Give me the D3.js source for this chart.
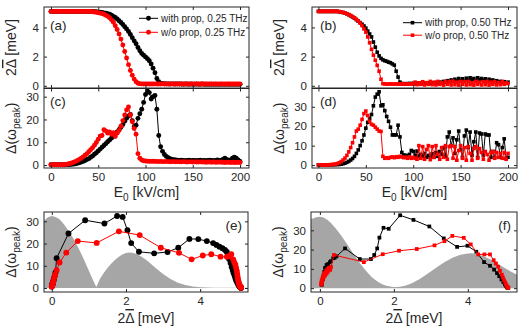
<!DOCTYPE html>
<html>
<head>
<meta charset="utf-8">
<script src="https://cdn.jsdelivr.net/npm/d3@7"></script>
<style>
body { margin:0; background:#fff; }
svg { display:block; font-family:'Liberation Sans', Arial, sans-serif; }
.frame { fill:none; stroke:#262626; stroke-width:1; }
.axis line { stroke:#262626; }
.axis text { fill:#262626; font-size:11.5px; font-family:'Liberation Sans', Arial, sans-serif; }
.ax-title { fill:#262626; font-size:14px; }
.panel-label { fill:#262626; font-size:13.5px; }
.legend-text { fill:#262626; font-size:10px; }
</style>
</head>
<body>
<script>
//----------------
//Data
//----------------
//E0 grid [kV/cm] for panels (a)-(d)
var E0 = d3.range(0, 201, 2)

//(a) 2*gap vs E0, 0.25 THz
var gapA_with = [5.1,5.1,5.1,5.1,5.1,5.1,5.1,5.1,5.1,5.1,5.1,5.1,5.1,5.1,5.1,5.1,5.1,5.1,5.1,5.1,5.1,
	5.1,5.09,5.08,5.07,5.05,5.04,5.02,5.0,4.97,4.94,4.9,4.84,4.76,4.68,4.58,4.46,4.34,4.2,4.05,3.9,
	3.72,3.52,3.3,3.08,2.88,2.62,2.4,2.22,2.1,1.98,1.86,1.72,1.5,1.2,0.9,0.5,0.28,0.18,0.15,
	0.14,0.13,0.13,0.12,0.13,0.12,0.12,0.13,0.12,0.12,0.11,0.12,0.12,0.11,0.12,0.11,0.11,0.12,0.11,0.11,
	0.12,0.11,0.11,0.1,0.11,0.11,0.1,0.11,0.1,0.1,0.11,0.1,0.1,0.1,0.11,0.1,0.1,0.1,0.1,0.1,0.1]
var gapA_without = [5.1,5.1,5.1,5.1,5.1,5.1,5.1,5.1,5.1,5.1,5.1,5.1,5.1,5.1,5.1,5.1,5.1,5.1,5.1,5.1,5.1,
	5.09,5.08,5.06,5.04,5.01,4.98,4.95,4.9,4.84,4.76,4.66,4.52,4.35,4.12,3.86,3.55,3.2,2.8,2.35,1.9,
	1.45,1.05,0.72,0.46,0.28,0.18,0.14,
	0.13,0.12,0.12,0.13,0.12,0.12,0.12,0.13,0.12,0.12,0.12,0.13,0.12,0.12,0.12,0.12,0.13,0.12,0.12,0.12,
	0.12,0.12,0.13,0.12,0.12,0.12,0.12,0.12,0.13,0.12,0.12,0.12,0.12,0.12,0.12,0.13,0.12,0.12,0.12,0.12,
	0.12,0.12,0.12,0.13,0.12,0.12,0.12,0.12,0.12,0.12,0.12,0.12,0.12]

//(c) peak width vs E0, 0.25 THz
var dwC_with = [0.1,0.1,0.1,0.1,0.1,0.1,0.15,0.15,0.2,0.2,0.25,0.3,
	0.4,0.55,0.75,1.0,1.3,1.6,2.0,2.4,2.8,3.4,4.0,4.7,5.4,6.2,7.0,7.8,8.6,9.4,10.2,11.0,
	11.8,12.6,13.5,14.5,15.5,16.6,17.8,19.2,20.5,21.6,22.2,19.5,16.8,17.5,20.5,22.5,24.5,27.5,31.0,32.5,
	31.8,29.0,30.0,30.5,24.5,13.0,8.0,6.0,4.6,3.8,3.2,2.8,2.5,2.3,2.2,
	2.1,2.0,2.1,2.0,1.9,2.0,2.1,1.9,2.0,2.0,1.9,2.0,2.1,1.9,2.0,1.9,2.0,2.1,2.0,1.9,2.0,2.2,2.0,2.1,
	2.4,3.0,2.4,2.0,2.2,3.0,3.4,3.0,2.2,1.6]
var dwC_without = [0.15,0.15,0.15,0.15,0.15,0.15,0.15,
	0.2,0.3,0.45,0.65,0.9,1.2,1.6,2.0,2.5,3.0,3.6,4.3,5.0,5.8,6.7,7.6,8.7,9.9,11.3,12.7,13.0,15.5,15.0,
	14.0,14.5,13.5,14.2,12.5,14.0,15.2,17.0,19.5,22.0,24.2,25.5,22.0,19.0,16.0,13.5,5.0,3.0,2.2,1.9,
	1.8,1.7,1.7,1.6,1.7,1.6,1.6,1.5,1.6,1.5,1.5,1.6,1.5,1.4,1.5,1.5,1.4,1.5,1.4,1.4,
	1.5,1.4,1.3,1.4,1.4,1.3,1.4,1.3,1.3,1.4,1.3,1.3,1.2,1.3,1.3,1.2,1.3,1.2,1.2,1.3,
	1.2,1.2,1.1,1.2,1.2,1.1,1.2,1.1,1.1,1.2,1.1]

//(b) 2*gap vs E0, 0.50 THz
var gapB_with = [5.1,5.1,5.1,5.1,5.1,5.1,5.1,5.1,5.1,5.1,5.1,
	5.08,5.05,5.02,4.98,4.93,4.87,4.8,4.72,4.63,4.53,4.43,4.33,4.22,4.1,3.95,3.75,3.55,3.35,3.0,2.65,
	2.3,2.05,1.88,1.78,1.72,1.68,1.62,1.58,1.5,1.42,1.0,0.6,0.25,0.15,
	0.15,0.14,0.15,0.16,0.15,0.17,0.15,0.16,0.18,0.15,0.17,0.16,0.18,0.2,0.17,0.2,0.18,0.22,0.2,0.25,
	0.22,0.3,0.25,0.35,0.28,0.4,0.3,0.45,0.32,0.5,0.35,0.48,0.3,0.52,0.38,0.55,0.4,0.5,
	0.35,0.55,0.42,0.5,0.38,0.48,0.3,0.45,0.35,0.4,0.28,0.35,0.25,0.3,0.22,0.28,0.2,0.25]
var gapB_without = [5.1,5.1,5.1,5.1,5.1,5.1,5.1,5.1,5.1,5.1,5.1,
	5.08,5.06,5.03,4.99,4.94,4.88,4.82,4.74,4.66,4.56,4.44,4.3,4.12,3.9,3.68,3.35,2.95,2.5,2.1,1.75,
	1.4,1.0,0.45,0.15,
	0.13,0.12,0.12,0.13,0.12,0.12,0.13,0.12,0.12,0.13,0.12,0.12,0.13,0.12,0.12,0.13,
	0.25,0.08,0.2,0.1,0.28,0.06,0.22,0.1,0.3,0.08,0.25,0.06,0.3,0.1,0.22,0.05,0.3,0.1,0.28,0.06,
	0.32,0.08,0.25,0.05,0.3,0.1,0.28,0.06,0.3,0.08,0.22,0.05,0.3,0.1,0.25,0.06,0.28,0.08,0.3,0.05,
	0.25,0.1,0.28,0.06,0.22,0.08,0.3,0.1,0.2,0.15]

//(d) peak width vs E0, 0.50 THz
var dwD_with = [0.1,0.1,0.1,0.1,0.1,0.15,0.15,0.2,0.2,0.25,0.3,
	0.35,0.5,0.7,1.0,1.4,1.9,2.6,3.4,4.5,6.0,7.8,10.0,12.5,15.5,19.0,22.0,24.0,26.0,30.5,35.0,
	36.5,37.7,30.5,31.0,28.0,25.0,22.5,19.5,15.5,15.5,15.5,20.5,14.5,6.5,
	5.2,5.0,4.8,5.5,7.5,7.0,5.0,7.2,4.5,5.5,4.5,6.0,4.0,5.0,4.2,5.8,4.0,6.5,4.5,7.0,
	5.5,9.0,4.5,14.5,17.0,10.0,14.0,6.0,13.0,17.5,8.0,4.0,15.0,18.0,9.0,17.0,5.0,12.0,17.0,4.0,
	16.5,16.0,5.0,16.0,15.5,15.5,4.0,7.0,4.0,11.5,10.5,4.0,9.0,13.5,3.5,4.0]
var dwD_without = [0.1,0.1,0.1,0.1,0.15,0.15,0.2,0.25,0.35,
	0.5,0.8,1.2,1.8,2.6,3.6,5.0,6.8,9.0,11.5,14.5,17.5,18.5,20.5,23.5,26.5,27.8,25.5,22.5,21.0,20.5,
	19.5,18.5,17.5,17.3,
	4.5,3.5,3.8,3.5,4.0,4.2,3.8,4.3,4.0,4.5,4.2,3.8,4.0,3.5,4.2,3.5,4.0,3.5,3.0,10.0,
	3.5,9.5,3.0,8.0,10.0,2.8,9.5,4.0,10.0,5.5,3.0,9.0,4.0,10.0,3.0,9.5,10.0,3.5,9.5,2.5,
	7.5,10.0,3.5,9.0,2.5,9.5,6.0,2.5,8.5,9.5,3.5,8.5,6.5,3.0,7.0,5.5,2.5,6.5,7.0,3.5,
	6.5,4.0,6.0,3.5,6.5,3.0,6.0]

//(e) peak width vs 2*gap, 0.25 THz
var gapE_with = [5.1,5.1,5.09,5.09,5.08,5.07,5.06,5.05,5.04,5.03,5.02,5.0,4.99,4.97,4.95,4.93,4.9,4.88,4.85,4.82,
	4.78,4.76,4.72,4.67,4.6,4.52,4.44,4.35,4.18,3.95,3.71,3.41,3.12,2.76,2.35,2.14,2.04,1.91,1.76,1.42,
	0.9,0.45,0.13,0.1,0.08,0.06,0.05,0.04,0.03,0.03,0.02,0.02,0.02,0.01,0.01,0.0]
var dwE_with = [0.1,0.15,0.2,0.3,0.45,0.6,0.8,1.0,1.3,1.6,2.0,2.5,3.0,3.5,4.5,5.5,6.8,8.0,9.5,11.2,
	13.0,15.0,16.2,17.1,17.9,18.6,19.4,20.2,21.1,22.0,22.1,18.1,16.2,15.6,16.3,20.2,26.0,32.0,32.4,29.0,
	30.5,24.5,13.4,7.0,5.5,4.4,3.6,3.0,2.5,2.2,2.0,1.8,1.6,1.3,1.0,0.7]
var gapE_without = [5.1,5.1,5.09,5.09,5.08,5.07,5.06,5.05,5.04,5.03,5.02,5.01,5.0,4.99,4.97,4.95,4.92,4.89,4.84,4.8,
	4.72,4.55,4.3,4.07,3.77,3.43,2.94,2.37,1.81,1.21,0.7,0.39,0.21,0.13,0.09,0.07,0.05,0.04,0.03,0.02,
	0.01,0.0]
var dwE_without = [0.1,0.2,0.3,0.5,0.7,1.0,1.4,1.9,2.5,3.2,4.0,5.0,6.2,7.6,9.0,10.5,11.5,12.9,15.2,14.4,
	14.1,14.1,15.2,14.6,12.9,15.8,18.1,23.8,25.5,20.3,21.1,15.9,11.5,8.0,6.0,4.8,3.6,2.8,2.2,1.6,
	1.0,0.6]

//(f) peak width vs 2*gap, 0.50 THz
var gapF_with = [5.08,5.07,5.06,5.04,5.02,5.0,4.96,4.91,4.85,4.79,4.71,4.6,4.44,4.23,3.99,3.71,3.35,2.96,2.53,2.17,
	1.86,1.72,1.61,1.55,1.47,1.38,1.08,0.68,0.45,0.4,0.36,0.3,0.27,0.22,0.18,0.14,0.12,0.1,0.08,0.06,0.05]
var dwF_with = [0.1,0.3,0.6,1.0,1.5,2.2,3.2,4.5,6.2,7.8,9.6,11.6,13.5,18.9,22.0,21.4,25.8,32.0,35.4,37.8,
	30.8,31.3,26.2,20.6,17.2,15.1,15.1,20.6,16.5,15.8,15.5,14.0,13.4,12.5,12.0,10.5,8.5,6.5,4.5,3.0,1.7]
var gapF_without = [5.1,5.09,5.07,5.05,5.03,5.01,4.98,4.95,4.92,4.87,4.82,4.76,4.7,4.6,4.45,4.28,4.08,3.89,3.58,3.37,
	3.1,2.62,2.14,1.7,1.19,0.38,0.3,0.28,0.25,0.22,0.2,0.18,0.16,0.14,0.12,0.1,0.09,0.08,0.07,0.06,
	0.05,0.05,0.04,0.04,0.03]
var dwF_without = [0.1,0.3,0.6,1.2,2.0,3.0,4.2,5.5,7.0,9.0,11.1,12.8,14.5,17.5,17.5,17.5,22.7,26.1,27.1,24.4,
	22.2,20.3,19.4,17.6,13.5,17.2,11.0,9.5,10.5,8.5,9.8,7.5,8.8,6.5,7.8,5.5,6.5,4.5,5.2,3.5,
	4.0,2.5,3.0,1.8,2.0]

//grey pulse spectra behind (e) and (f)
var specE_x = [-0.25,-0.1,0,0.1,0.2,0.3,0.4,0.5,0.6,0.7,0.8,0.9,1.0,1.1,1.2,1.3,1.4,1.5,1.6,1.7,
	1.8,1.9,2.0,2.1,2.2,2.3,2.4,2.5,2.6,2.7,2.8,2.9,3.0,3.2,3.4,3.6,3.8,4.0,4.4,5.4]
var specE_y = [29.8,31.8,32.4,32.0,31.0,29.2,27.0,24.5,21.7,18.6,15.2,11.6,7.8,3.9,0.5,4.2,6.8,9.0,10.9,12.6,
	14.0,15.1,15.8,16.0,15.8,15.2,14.3,13.2,11.9,10.5,9.0,7.6,6.3,4.0,2.4,1.3,0.7,0.35,0.15,0.1]
var specF_x = [-0.3,-0.1,0,0.1,0.2,0.3,0.4,0.5,0.6,0.7,0.8,0.9,1.0,1.1,1.2,1.3,1.4,1.5,1.6,1.7,
	1.8,1.9,2.0,2.1,2.2,2.3,2.4,2.5,2.6,2.7,2.8,2.9,3.0,3.2,3.4,3.6,3.8,4.0,4.1,4.2,
	4.4,4.6,4.8,5.0,5.2,5.4]
var specF_y = [35.2,36.8,37.0,36.7,35.5,33.8,31.6,29.2,26.6,23.8,21.0,18.0,15.2,12.5,10.0,7.8,5.8,4.2,2.9,1.9,
	1.2,0.8,0.6,0.6,0.8,1.3,1.9,2.7,3.7,4.8,6.0,7.3,8.6,11.3,13.8,15.9,17.3,18.0,18.1,17.9,
	16.8,15.0,12.8,10.4,8.2,6.3]

//tick values
var ticksE0 = [0, 50, 100, 150, 200]
var ticksGap = [0, 2, 4]
var ticksDw = [0, 10, 20, 30]

var legendA = ['with prop, 0.25 THz', 'w/o prop, 0.25 THz']
var legendB = ['with prop, 0.50 THz', 'w/o prop, 0.50 THz']

//----------------
//Setup
//----------------
var _black = '#000000',
	_red = '#ff0000',
	_grey = '#a6a6a6',
	_clipInc = 0

var _fmt = d3.format('~g')

var _svg = d3.select('body').append('svg')
	.attr('width', 526)
	.attr('height', 328)

/**
 * Make one axes box with scales, inside ticks on all four sides
 */
function _panel(box, xDom, yDom, xTicks, yTicks, xLabels){
	var p = {box: box}
	p.x = d3.scaleLinear().domain(xDom).range([box.l, box.r])
	p.y = d3.scaleLinear().domain(yDom).range([box.b, box.t])
	p.g = _svg.append('g')
	p.clip = 'clip' + (_clipInc++)
	p.g.append('clipPath').attr('id', p.clip).append('rect')
		.attr('x', box.l).attr('y', box.t)
		.attr('width', box.r - box.l).attr('height', box.b - box.t)
	p.back = p.g.append('g')

	var bottom = d3.axisBottom(p.x).tickValues(xTicks).tickSize(-3).tickSizeOuter(0).tickPadding(5)
		.tickFormat(xLabels ? _fmt : '')
	var top = d3.axisTop(p.x).tickValues(xTicks).tickSize(-3).tickSizeOuter(0).tickFormat('')
	var left = d3.axisLeft(p.y).tickValues(yTicks).tickSize(-3).tickSizeOuter(0).tickPadding(5)
		.tickFormat(_fmt)
	var right = d3.axisRight(p.y).tickValues(yTicks).tickSize(-3).tickSizeOuter(0).tickFormat('')

	p.axes = p.g.append('g')
	p.axes.append('g').attr('class', 'axis').attr('transform', 'translate(0,' + box.b + ')').call(bottom)
	p.axes.append('g').attr('class', 'axis').attr('transform', 'translate(0,' + box.t + ')').call(top)
	p.axes.append('g').attr('class', 'axis').attr('transform', 'translate(' + box.l + ',0)').call(left)
	p.axes.append('g').attr('class', 'axis').attr('transform', 'translate(' + box.r + ',0)').call(right)
	p.axes.selectAll('.domain').remove()
	p.axes.selectAll('.tick text').attr('font-size', null).attr('font-family', null)
	p.axes.append('rect').attr('class', 'frame')
		.attr('x', box.l).attr('y', box.t)
		.attr('width', box.r - box.l).attr('height', box.b - box.t)
	return p
}

/**
 * Line with markers
 */
function _series(p, xs, ys, color, shape, size){
	var pts = xs.map(function(d, i){ return [d, ys[i]] })
	p.g.append('path').datum(pts)
		.attr('fill', 'none')
		.attr('stroke', color)
		.attr('stroke-width', 1)
		.attr('d', d3.line()
			.x(function(d){ return p.x(d[0]) })
			.y(function(d){ return p.y(d[1]) }))
	var sym = d3.symbol().type(shape == 'square' ? d3.symbolSquare : d3.symbolCircle).size(size)
	p.g.append('g').selectAll('path').data(pts).enter().append('path')
		.attr('transform', function(d){ return 'translate(' + p.x(d[0]) + ',' + p.y(d[1]) + ')' })
		.attr('d', sym)
		.attr('fill', color)
}

/**
 * Grey filled spectrum, clipped to the box
 */
function _spectrum(p, xs, ys){
	var pts = xs.map(function(d, i){ return [d, ys[i]] })
	p.back.append('path').datum(pts)
		.attr('clip-path', 'url(#' + p.clip + ')')
		.attr('fill', _grey)
		.attr('d', d3.area()
			.x(function(d){ return p.x(d[0]) })
			.y0(p.y(0))
			.y1(function(d){ return p.y(d[1]) }))
}

function _legend(x, y0, dy, labels, shape, size){
	var colors = [_black, _red]
	var sym = d3.symbol().type(shape == 'square' ? d3.symbolSquare : d3.symbolCircle).size(size)
	labels.forEach(function(t, i){
		var y = y0 + i * dy
		_svg.append('line')
			.attr('x1', x).attr('x2', x + 19).attr('y1', y).attr('y2', y)
			.attr('stroke', colors[i]).attr('stroke-width', 1)
		_svg.append('path').attr('d', sym).attr('fill', colors[i])
			.attr('transform', 'translate(' + (x + 9.5) + ',' + y + ')')
		_svg.append('text').attr('class', 'legend-text')
			.attr('x', x + 22).attr('y', y).attr('dy', '0.35em')
			.text(t)
	})
}

function _panelLabel(x, y, t, anchor){
	_svg.append('text').attr('class', 'panel-label')
		.attr('x', x).attr('y', y)
		.attr('text-anchor', anchor || 'start')
		.text(t)
}

//2 Delta-bar [meV]
function _gapTitle(sel){
	sel.append('tspan').text('2')
	sel.append('tspan').style('text-decoration', 'overline').text('\u0394')
	sel.append('tspan').text(' [meV]')
}

//Delta(omega_peak)
function _dwTitle(sel){
	sel.append('tspan').text('\u0394(\u03c9')
	sel.append('tspan').attr('font-size', '10px').attr('dy', 4).text('peak')
	sel.append('tspan').attr('dy', -4).text(')')
}

function _yTitle(p, fill){
	var cy = (p.box.t + p.box.b) / 2
	var t = _svg.append('text').attr('class', 'ax-title')
		.attr('text-anchor', 'middle')
		.attr('transform', 'translate(' + (p.box.l - 28) + ',' + cy + ') rotate(-90)')
	fill(t)
}

function _xTitle(p, y, fill){
	var t = _svg.append('text').attr('class', 'ax-title')
		.attr('text-anchor', 'middle')
		.attr('x', (p.box.l + p.box.r) / 2).attr('y', y)
	fill(t)
}

function _e0Title(sel){
	sel.append('tspan').text('E')
	sel.append('tspan').attr('font-size', '10px').attr('dy', 4).text('0')
	sel.append('tspan').attr('dy', -4).text(' [kV/cm]')
}

//----------------
//Draw
//----------------
var pa = _panel({l:44, r:249, t:7, b:88}, [-7.4, 209.5], [-0.15, 5.4], ticksE0, ticksGap, false)
var pb = _panel({l:312, r:517, t:7, b:88}, [-6.8, 209.5], [-0.15, 5.4], ticksE0, ticksGap, false)
var pc = _panel({l:44, r:249, t:88.5, b:168}, [-7.4, 209.5], [-1.3, 33.6], ticksE0, ticksDw, true)
var pd = _panel({l:312, r:517, t:88.5, b:168}, [-6.8, 209.5], [-1.5, 39.4], ticksE0, ticksDw, true)
var pe = _panel({l:44, r:248, t:212, b:292}, [-0.21, 5.29], [-1.8, 34.2], ticksGap, ticksDw, true)
var pf = _panel({l:311, r:517, t:212, b:292}, [-0.24, 5.33], [-2, 39.5], ticksGap, ticksDw, true)

_spectrum(pe, specE_x, specE_y)
_spectrum(pf, specF_x, specF_y)

_series(pa, E0, gapA_with, _black, 'circle', 19)
_series(pa, E0, gapA_without, _red, 'circle', 19)
_series(pc, E0, dwC_with, _black, 'circle', 19)
_series(pc, E0, dwC_without, _red, 'circle', 19)
_series(pb, E0, gapB_with, _black, 'square', 13)
_series(pb, E0, gapB_without, _red, 'square', 13)
_series(pd, E0, dwD_with, _black, 'square', 13)
_series(pd, E0, dwD_without, _red, 'square', 13)
_series(pe, gapE_with, dwE_with, _black, 'circle', 27)
_series(pe, gapE_without, dwE_without, _red, 'circle', 27)
_series(pf, gapF_with, dwF_with, _black, 'square', 14)
_series(pf, gapF_without, dwF_without, _red, 'square', 14)

//keep frames on top of the data
;[pa, pb, pc, pd, pe, pf].forEach(function(p){ p.g.node().appendChild(p.axes.node()) })

_legend(139, 18.3, 14, legendA, 'circle', 19)
_legend(403, 22.7, 12.5, legendB, 'square', 13)

_panelLabel(50, 30, '(a)')
_panelLabel(320, 30, '(b)')
_panelLabel(50, 106, '(c)')
_panelLabel(320, 106, '(d)')
_panelLabel(242, 230, '(e)', 'end')
_panelLabel(511, 230, '(f)', 'end')

_yTitle(pa, _gapTitle)
_yTitle(pb, _gapTitle)
_yTitle(pc, _dwTitle)
_yTitle(pd, _dwTitle)
_yTitle(pe, _dwTitle)
_yTitle(pf, _dwTitle)

_xTitle(pc, 197, _e0Title)
_xTitle(pd, 197, _e0Title)
_xTitle(pe, 323, _gapTitle)
_xTitle(pf, 323, _gapTitle)
</script>
</body>
</html>
